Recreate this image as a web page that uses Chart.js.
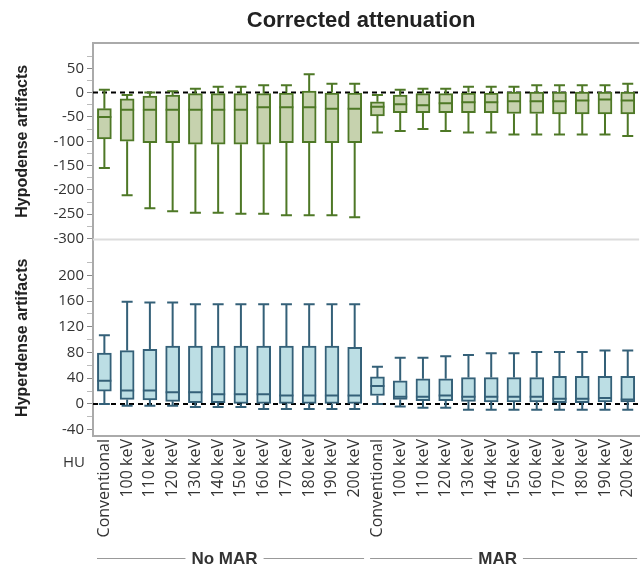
<!DOCTYPE html>
<html>
<head>
<meta charset="utf-8">
<script src="https://cdn.jsdelivr.net/npm/chart.js@4/dist/chart.umd.min.js"></script>
<style>
html, body { margin: 0; padding: 0; overflow: hidden; background: #fff; }
#wrap { width: 650px; height: 568px; }
</style>
</head>
<body>
<div id="wrap"><canvas id="myChart" width="650" height="568"></canvas></div>
<script>
// Categories (two groups of 12)
let categories = ['Conventional', '100 keV', '110 keV', '120 keV', '130 keV', '140 keV', '150 keV', '160 keV', '170 keV', '180 keV', '190 keV', '200 keV',
                  'Conventional', '100 keV', '110 keV', '120 keV', '130 keV', '140 keV', '150 keV', '160 keV', '170 keV', '180 keV', '190 keV', '200 keV'];
let groups = ['No MAR', 'MAR'];

// Hypodense artifacts (HU) - box plot stats
let hypoMin = [-155, -211, -238, -244, -247, -247, -249, -249, -252, -252, -252, -256, -82, -79, -75, -79, -82, -82, -86, -86, -86, -86, -86, -89];
let hypoQ1  = [-95, -100, -103, -103, -106, -106, -106, -106, -103, -103, -103, -103, -48, -41, -41, -41, -41, -41, -43, -43, -44, -44, -44, -44];
let hypoMed = [-50, -35, -35, -35, -35, -35, -35, -30, -30, -30, -33, -33, -29, -24, -26, -22, -20, -20, -18, -18, -18, -16, -14, -16];
let hypoQ3  = [-33, -13, -7, -5, -2, -2, -2, -2, 0, 3, 0, 0, -19, -5, -2, -2, 0, 0, 1, 1, 1, 1, 1, 1];
let hypoMax = [6, -5, 0, 3, 8, 12, 12, 15, 15, 38, 18, 18, -5, 6, 8, 8, 12, 12, 12, 15, 15, 15, 15, 18];

// Hyperdense artifacts (HU)
let hyperMin = [0, -3, -3, -3, -5, -5, -5, -8, -8, -8, -8, -8, 0, -4, -6, -6, -9, -9, -9, -9, -9, -9, -9, -9];
let hyperQ1  = [20, 7, 6, 4, 2, 2, 0, 0, 0, 0, 0, 0, 13, 7, 5, 5, 4, 3, 3, 3, 2, 2, 3, 3];
let hyperMed = [36, 21, 21, 18, 18, 15, 15, 15, 13, 13, 13, 13, 28, 11, 11, 13, 11, 11, 11, 11, 8, 8, 9, 7];
let hyperQ3  = [79, 83, 85, 90, 90, 90, 90, 90, 90, 90, 90, 88, 42, 36, 39, 39, 41, 41, 41, 41, 43, 43, 43, 43];
let hyperMax = [107, 159, 158, 158, 155, 155, 155, 155, 155, 155, 155, 155, 58, 72, 72, 74, 76, 79, 79, 81, 81, 81, 83, 83];

// Tick labels
let hypoTicks = [50, 0, -50, -100, -150, -200, -250, -300];
let hyperTicks = [200, 160, 120, 80, 40, 0, -40];

const tickFont = { family: '"Open Sans", sans-serif', size: 15 };
const titleFont = { family: '"Liberation Sans", Arial, sans-serif', size: 16, weight: 'bold' };

// whiskers, medians, zero lines, frame and extra text
const boxExtras = {
    id: 'boxExtras',
    beforeDatasetsDraw(chart) {
        const { ctx, chartArea, scales } = chart;
        ctx.save();
        // top frame and panel separator
        ctx.strokeStyle = '#aaa';
        ctx.lineWidth = 2;
        ctx.beginPath();
        ctx.moveTo(chartArea.left, chartArea.top);
        ctx.lineTo(chartArea.right, chartArea.top);
        ctx.stroke();
        ctx.strokeStyle = '#dcdcdc';
        ctx.beginPath();
        ctx.moveTo(chartArea.left, scales.yHypo.bottom);
        ctx.lineTo(chartArea.right, scales.yHypo.bottom);
        ctx.stroke();
        // zero reference lines
        ctx.setLineDash([5, 4]);
        ctx.strokeStyle = '#000';
        ctx.lineWidth = 2;
        ['yHypo', 'yHyper'].forEach(id => {
            const y = scales[id].getPixelForValue(0);
            ctx.beginPath();
            ctx.moveTo(chartArea.left, y);
            ctx.lineTo(chartArea.right, y);
            ctx.stroke();
        });
        ctx.restore();
    },
    afterDatasetsDraw(chart) {
        const { ctx } = chart;
        ctx.save();
        chart.data.datasets.forEach((ds, i) => {
            const meta = chart.getDatasetMeta(i);
            const scale = chart.scales[ds.yAxisID];
            ctx.strokeStyle = ds.borderColor;
            ctx.lineWidth = 2;
            meta.data.forEach((bar, j) => {
                const x = bar.x, hw = bar.width / 2, cap = 5.5;
                const yLo = scale.getPixelForValue(ds.stats.min[j]);
                const yHi = scale.getPixelForValue(ds.stats.max[j]);
                const yQ1 = scale.getPixelForValue(ds.data[j][0]);
                const yQ3 = scale.getPixelForValue(ds.data[j][1]);
                const yMed = scale.getPixelForValue(ds.stats.med[j]);
                ctx.beginPath();
                ctx.moveTo(x, yQ3); ctx.lineTo(x, yHi);
                ctx.moveTo(x - cap, yHi); ctx.lineTo(x + cap, yHi);
                ctx.moveTo(x, yQ1); ctx.lineTo(x, yLo);
                ctx.moveTo(x - cap, yLo); ctx.lineTo(x + cap, yLo);
                ctx.moveTo(x - hw, yMed); ctx.lineTo(x + hw, yMed);
                ctx.stroke();
            });
        });
        ctx.restore();
    },
    afterDraw(chart) {
        const { ctx, chartArea, scales } = chart;
        ctx.save();
        // title
        ctx.fillStyle = '#222';
        ctx.font = 'bold 22px "Liberation Sans", Arial, sans-serif';
        ctx.textAlign = 'center';
        ctx.textBaseline = 'middle';
        ctx.fillText('Corrected attenuation', (chartArea.left + chartArea.right) / 2 - 5, 21);
        // unit
        ctx.fillStyle = '#333';
        ctx.font = '15px "Open Sans", sans-serif';
        ctx.fillText('HU', 74, 463);
        // group labels
        ctx.font = 'bold 17px "Liberation Sans", Arial, sans-serif';
        const x = scales.x;
        const n = categories.length / groups.length;
        groups.forEach((g, k) => {
            const left = x.getPixelForValue(k * n) - x.width / categories.length / 2 + 4;
            const right = Math.min(x.getPixelForValue((k + 1) * n - 1) + x.width / categories.length / 2 - 2, 643);
            const cx = (left + right) / 2 - 6;
            const tw = ctx.measureText(g).width / 2 + 6;
            const y = 558;
            ctx.strokeStyle = '#999';
            ctx.lineWidth = 1;
            ctx.beginPath();
            ctx.moveTo(left, y + 0.5); ctx.lineTo(cx - tw, y + 0.5);
            ctx.moveTo(cx + tw, y + 0.5); ctx.lineTo(right, y + 0.5);
            ctx.stroke();
            ctx.fillStyle = '#333';
            ctx.fillText(g, cx, y + 1);
        });
        ctx.restore();
    }
};

function yAxis(min, max, step, tickList, title, weight) {
    return {
        type: 'linear',
        position: 'left',
        stack: 'panels',
        stackWeight: 1,
        weight: weight,
        min: min,
        max: max,
        afterBuildTicks: s => {
            // major ticks carry labels, minor ticks sit halfway between them
            const top = Math.max(...tickList) + step;
            const ticks = [];
            for (let v = Math.ceil(s.min / step) * step; v <= top; v += step) ticks.push({ value: v });
            s.ticks = ticks;
        },
        afterFit: s => { s.width = 93; },
        ticks: {
            autoSkip: false,
            padding: 3,
            color: '#333',
            font: tickFont,
            callback: v => tickList.includes(v) ? String(v) : ''
        },
        grid: {
            drawOnChartArea: false,
            drawTicks: true,
            tickLength: 6,
            tickColor: c => (c.tick && tickList.includes(c.tick.value)) ? '#888' : '#bbb'
        },
        border: { display: true, color: '#aaa', width: 2 },
        title: {
            display: true,
            text: title,
            color: '#222',
            font: titleFont,
            padding: { top: 13, bottom: 0 }
        }
    };
}

let ctx = document.getElementById('myChart').getContext('2d');
let myChart = new Chart(ctx, {
    type: 'bar',
    data: {
        labels: categories,
        datasets: [{
            label: 'Hypodense artifacts',
            yAxisID: 'yHypo',
            data: hypoQ1.map((q, i) => [q, hypoQ3[i]]),
            stats: { min: hypoMin, med: hypoMed, max: hypoMax },
            backgroundColor: 'rgb(198, 210, 174)',
            borderColor: 'rgb(78, 120, 38)',
            borderWidth: 2,
            borderSkipped: false,
            barThickness: 14,
            grouped: false
        }, {
            label: 'Hyperdense artifacts',
            yAxisID: 'yHyper',
            data: hyperQ1.map((q, i) => [q, hyperQ3[i]]),
            stats: { min: hyperMin, med: hyperMed, max: hyperMax },
            backgroundColor: 'rgb(188, 222, 228)',
            borderColor: 'rgb(52, 96, 120)',
            borderWidth: 2,
            borderSkipped: false,
            barThickness: 14,
            grouped: false
        }]
    },
    options: {
        responsive: false,
        animation: false,
        layout: { padding: { top: 43, right: 2.5, bottom: 0, left: 0 } },
        plugins: { legend: { display: false }, tooltip: { enabled: false } },
        scales: {
            x: {
                type: 'category',
                afterFit: s => { s.height = 132; },
                ticks: {
                    autoSkip: false,
                    maxRotation: 90,
                    minRotation: 90,
                    padding: 3,
                    color: '#333',
                    font: { family: '"Open Sans", sans-serif', size: 16 }
                },
                grid: { display: false, drawTicks: false },
                border: { display: true, color: '#aaa', width: 2 }
            },
            yHypo: yAxis(-302, 102, 25, hypoTicks, 'Hypodense artifacts', 1),
            yHyper: yAxis(-50, 256, 20, hyperTicks, 'Hyperdense artifacts', 0)
        }
    },
    plugins: [boxExtras]
});
</script>
</body>
</html>
